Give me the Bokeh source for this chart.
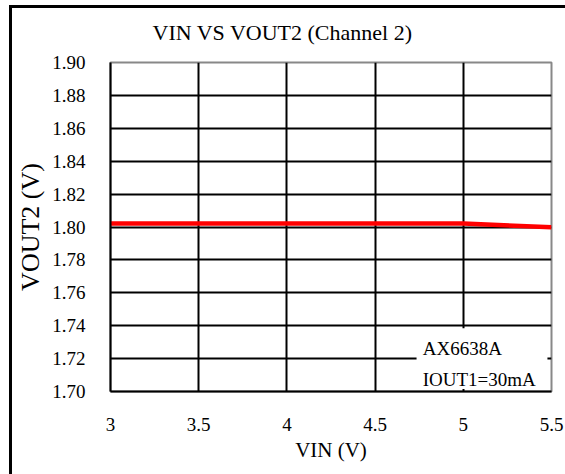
from bokeh.plotting import figure
from bokeh.models import FixedTicker, Range1d, InlineStyleSheet, ColumnDataSource
from bokeh.core.properties import value
from bokeh.embed import file_html
from bokeh.resources import INLINE

# data
vin = [3.0, 3.5, 4.0, 4.5, 5.0, 5.5]
vout2 = [1.8022, 1.8022, 1.8022, 1.8022, 1.8021, 1.7998]
x_ticks = [3, 3.5, 4, 4.5, 5, 5.5]
y_ticks = [1.70, 1.72, 1.74, 1.76, 1.78, 1.80, 1.82, 1.84, 1.86, 1.88, 1.90]
title_text = "VIN  VS VOUT2 (Channel 2)"
note_lines = ["AX6638A", "IOUT1=30mA"]

FONT = "Liberation Serif"

p = figure(width=565, height=474, output_backend="svg", toolbar_location=None,
           x_range=Range1d(3, 5.5), y_range=Range1d(1.70, 1.90),
           min_border_left=110, min_border_right=14, min_border_top=62, min_border_bottom=83)
p.background_fill_color = "white"
p.border_fill_color = None
p.outline_line_color = "#888888"
p.outline_line_width = 2

p.title.text = title_text
p.title.text_font = FONT
p.title.text_font_size = "22px"
p.title.text_font_style = "normal"
p.title.text_color = "black"
p.title.align = "left"
p.title.offset = 42
p.title.standoff = 35

for ax in (p.xaxis[0], p.yaxis[0]):
    ax.axis_line_color = "black"
    ax.axis_line_width = 2
    ax.major_tick_line_color = None
    ax.minor_tick_line_color = None
    ax.major_label_text_font = FONT
    ax.major_label_text_font_size = "19px"
    ax.major_label_text_color = "black"
    ax.axis_label_text_font = FONT
    ax.axis_label_text_font_style = "normal"
    ax.axis_label_text_color = "black"

p.xaxis.ticker = FixedTicker(ticks=x_ticks)
p.yaxis.ticker = FixedTicker(ticks=y_ticks)
p.yaxis.major_label_overrides = {t: f"{t:.2f}" for t in y_ticks}
p.xaxis.major_label_overrides = {t: (f"{t:g}") for t in x_ticks}
p.xaxis.major_label_standoff = 20
p.yaxis.major_label_standoff = 19
p.xaxis.axis_label = "VIN (V)"
p.yaxis.axis_label = "VOUT2 (V)"
p.xaxis.axis_label_text_font_size = "21px"
p.yaxis.axis_label_text_font_size = "26px"
p.xaxis.axis_label_standoff = 4
p.yaxis.axis_label_standoff = 4

p.xgrid.ticker = FixedTicker(ticks=x_ticks)
p.ygrid.ticker = FixedTicker(ticks=y_ticks)
for g in (p.xgrid[0], p.ygrid[0]):
    g.grid_line_color = "black"
    g.grid_line_width = 2

p.line(vin, vout2, line_color="red", line_width=4.5)

# note box covering grid, then its text
p.quad(left=[4.735], right=[5.477], bottom=[1.7015], top=[1.7385],
       fill_color="white", line_color=None)
note_src = ColumnDataSource(dict(x=[4.77, 4.77], y=[1.7262, 1.7075], t=note_lines))
p.text(x="x", y="y", text="t", source=note_src, text_font=value(FONT), text_font_size="19px",
       text_baseline="middle", text_align="left", text_color="black")

# outer frame (left and top edges) drawn as host background behind a transparent border area
p.stylesheets = [InlineStyleSheet(css=""":host {
 background:
  linear-gradient(black, black) 9px 5px / 3px 100% no-repeat,
  linear-gradient(black, black) 9px 5px / 100% 3px no-repeat,
  white;
}""")]

open("out.html", "w").write(file_html(p, INLINE))
